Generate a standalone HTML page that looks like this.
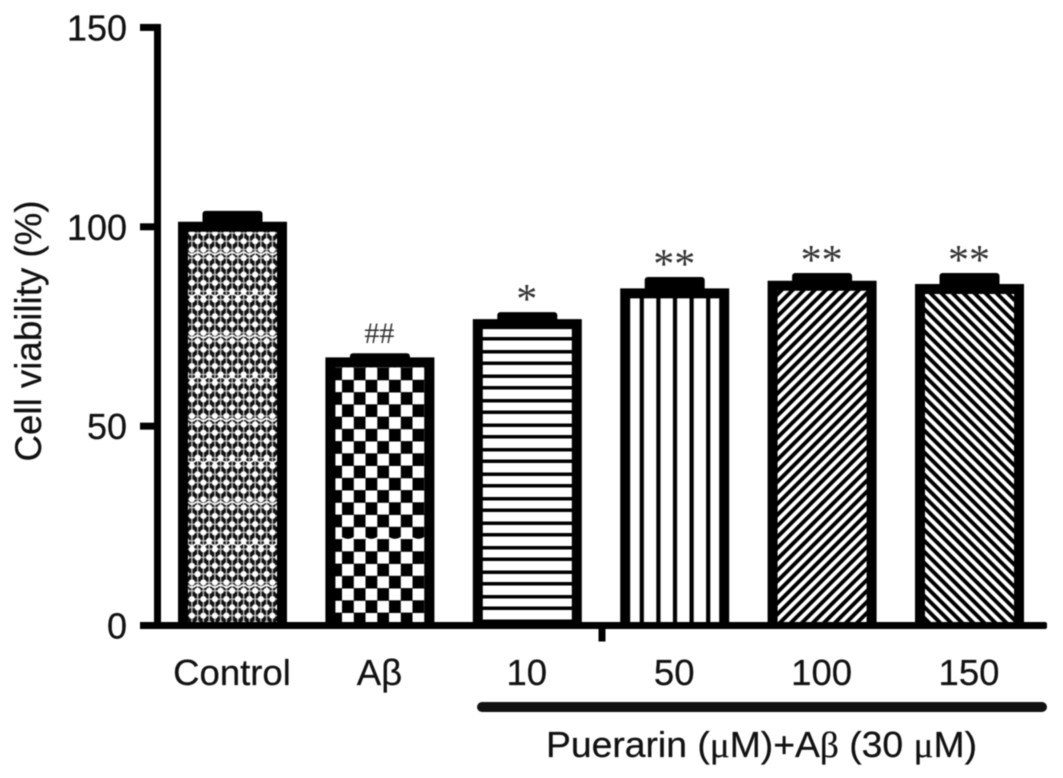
<!DOCTYPE html>
<html lang="en">
<head>
<meta charset="utf-8">
<title>Cell viability bar chart</title>
<style>
html,body{margin:0;padding:0;background:#fff;width:1063px;height:778px;overflow:hidden}
svg{display:block;filter:blur(0.6px)}
text{font-family:"Liberation Sans",sans-serif;fill:#111;stroke:#111;stroke-width:0.25px}
.sym{font-family:"Liberation Serif",serif}
</style>
</head>
<body>
<svg id="chart" xmlns="http://www.w3.org/2000/svg" width="1063" height="778" viewBox="0 0 1063 778">
<defs>
<pattern id="fill-0" patternUnits="userSpaceOnUse" x="189" y="295" width="11.5" height="83.2">
<rect width="11.5" height="83.2" fill="#111"/>
<path d="M0 4.6H11.5M0 12.9H11.5M0 21.2H11.5M0 29.5H11.5M0 37.8H11.5M0 46.2H11.5M0 54.5H11.5M0 62.8H11.5M0 71.1H11.5M0 79.4H11.5M2.9 0V83.2M8.65 0V83.2" stroke="#bbb" stroke-width="1.4"/>
<circle cx="2.9" cy="4.6" r="3.1" fill="#fff"/><circle cx="8.65" cy="12.9" r="3.1" fill="#fff"/>
<circle cx="2.9" cy="21.2" r="3.1" fill="#fff"/><circle cx="8.65" cy="29.5" r="3.1" fill="#fff"/>
<circle cx="2.9" cy="37.8" r="3.1" fill="#fff"/><circle cx="8.65" cy="46.2" r="3.1" fill="#fff"/>
<circle cx="2.9" cy="54.5" r="3.1" fill="#fff"/><circle cx="8.65" cy="62.8" r="3.1" fill="#fff"/>
<circle cx="2.9" cy="71.1" r="3.1" fill="#fff"/><circle cx="8.65" cy="79.4" r="3.1" fill="#fff"/>
<path d="M0 0Q2.9 2.4 5.75 0T11.5 0M0 41.6Q2.9 44 5.75 41.6T11.5 41.6M0 83.2Q2.9 85.6 5.75 83.2T11.5 83.2" fill="none" stroke="#fff" stroke-width="1.8"/>
</pattern>
<pattern id="fill-1" patternUnits="userSpaceOnUse" x="342" y="613" width="23.5" height="171.5">
<rect width="23.5" height="171.5" fill="#000"/>
<rect x="0" y="0" width="11.8" height="11.8" fill="#fff"/><rect x="11.8" y="12.3" width="11.7" height="11.8" fill="#fff"/>
<rect x="0" y="24.5" width="11.8" height="11.8" fill="#fff"/><rect x="11.8" y="36.8" width="11.7" height="11.8" fill="#fff"/>
<rect x="0" y="49" width="11.8" height="11.8" fill="#fff"/><rect x="11.8" y="61.3" width="11.7" height="11.8" fill="#fff"/>
<rect x="0" y="73.5" width="11.8" height="11.8" fill="#fff"/><rect x="11.8" y="85.8" width="11.7" height="11.8" fill="#fff"/>
<rect x="0" y="98" width="11.8" height="11.8" fill="#fff"/><rect x="11.8" y="110.3" width="11.7" height="11.8" fill="#fff"/>
<rect x="0" y="122.5" width="11.8" height="11.8" fill="#fff"/><rect x="11.8" y="134.8" width="11.7" height="11.8" fill="#fff"/>
<rect x="0" y="147" width="11.8" height="11.8" fill="#fff"/><rect x="11.8" y="159.3" width="11.7" height="11.8" fill="#fff"/>
<path d="M0 96.5Q5.9 100 11.75 96.5T23.5 96.5" fill="none" stroke="#fff" stroke-width="1.8"/>
</pattern>
<pattern id="fill-2" patternUnits="userSpaceOnUse" x="0" y="399" width="10" height="24.5">
<rect width="10" height="24.5" fill="#fff"/>
<rect y="0" width="10" height="3.5" fill="#000"/>
<rect y="11.5" width="10" height="3.5" fill="#000"/>
</pattern>
<pattern id="fill-3" patternUnits="userSpaceOnUse" x="639.7" y="0" width="16.6" height="10">
<rect width="16.6" height="10" fill="#fff"/>
<rect x="0" width="4.2" height="10" fill="#000"/>
</pattern>
<pattern id="fill-4" patternUnits="userSpaceOnUse" width="7.8" height="7.8" patternTransform="translate(790 290) rotate(-45)">
<rect width="7.8" height="7.8" fill="#fff"/>
<rect width="7.8" height="3.9" fill="#000"/>
</pattern>
<pattern id="fill-5" patternUnits="userSpaceOnUse" width="7.8" height="7.8" patternTransform="translate(930 290) rotate(45)">
<rect width="7.8" height="7.8" fill="#fff"/>
<rect width="7.8" height="3.9" fill="#000"/>
</pattern>
</defs>
<g id="bars"></g>
<g id="axes"></g>
<g id="labels"></g>
<text transform="translate(41 331) rotate(-90)" text-anchor="middle" font-size="37" textLength="261" lengthAdjust="spacingAndGlyphs">Cell viability (%)</text>
<rect x="477" y="702" width="570" height="10" rx="5" fill="#111"/>
<text x="546" y="757" font-size="36" textLength="431" lengthAdjust="spacingAndGlyphs">Puerarin (<tspan class="sym">μ</tspan>M)+A<tspan class="sym">β</tspan> (30 <tspan class="sym">μ</tspan>M)</text>
</svg>
<script>
const categories = ["Control", "Aβ", "10", "50", "100", "150"];
const means = [100, 66, 75.6, 83.3, 85.2, 84.4];
const errors = [4, 2.3, 3, 4.1, 3.2, 4];
const significance = ["", "##", "*", "**", "**", "**"];
const yTicks = [0, 50, 100, 150];

const svgNS = "http://www.w3.org/2000/svg";
const yScale = v => 625.5 - v * 3.987;
const xScale = i => 232.5 + i * 147.4;
const barsLayer = document.getElementById("bars");
const axesLayer = document.getElementById("axes");
const labelsLayer = document.getElementById("labels");
const STROKE = 10, BAR_W = 99, CAP_W = 60;

function make(tag, attrs, parent) {
  const el = document.createElementNS(svgNS, tag);
  for (const k in attrs) el.setAttribute(k, attrs[k]);
  parent.appendChild(el);
  return el;
}

categories.forEach((cat, i) => {
  const cx = xScale(i), top = yScale(means[i]), base = yScale(0);
  const left = cx - BAR_W / 2, right = cx + BAR_W / 2;

  const fill = make("rect", {x: left, y: top, width: BAR_W, height: base - top, fill: `url(#fill-${i})`}, barsLayer);
  
  

  const outline = make("path", {d: `M${left} ${base}V${top}H${right}V${base}`, fill: "none", stroke: "#000",
    "stroke-width": STROKE, "stroke-linejoin": "miter"}, barsLayer);
  
  

  const capTop = yScale(means[i] + errors[i]);
  const cap = make("rect", {x: cx - CAP_W / 2, y: capTop, width: CAP_W, height: top - capTop + 2, rx: 3, fill: "#000"}, barsLayer);
  
  

  const lab = make("text", {x: cx - 0.5, y: 685, "text-anchor": "middle", "font-size": 36.5}, labelsLayer);
  lab.textContent = cat;
  
  

  if (significance[i]) {
    const isHash = significance[i][0] === "#";
    const sig = make("text", {x: cx - 0.5, y: capTop + (isHash ? -10 : 1),
      "text-anchor": "middle", "font-size": isHash ? 30 : 42, style: 'font-family:"Liberation Serif",serif;fill:#333;stroke:none'}, labelsLayer);
    sig.textContent = significance[i];
    
    
  }
});

const yAxis = make("rect", {x: 154, y: yScale(150) - 3.5, width: 7, height: yScale(0) - yScale(150) + 7, fill: "#000"}, axesLayer);



const xAxis = make("rect", {x: 140, y: yScale(0) - 3.5, width: 907, height: 7, rx: 2, fill: "#000"}, axesLayer);



yTicks.forEach(t => {
  const y = yScale(t);
  const tick = make("rect", {x: 140, y: y - 3.5, width: 18, height: 7, fill: "#000"}, axesLayer);
  
  
  const lab = make("text", {x: 127, y: y + 13, "text-anchor": "end", "font-size": 36}, labelsLayer);
  lab.textContent = t;
  
  
});

const xTick = make("rect", {x: xScale(2.5) - 2.5, y: yScale(0), width: 7, height: 16, fill: "#000"}, axesLayer);


</script>
</body>
</html>
